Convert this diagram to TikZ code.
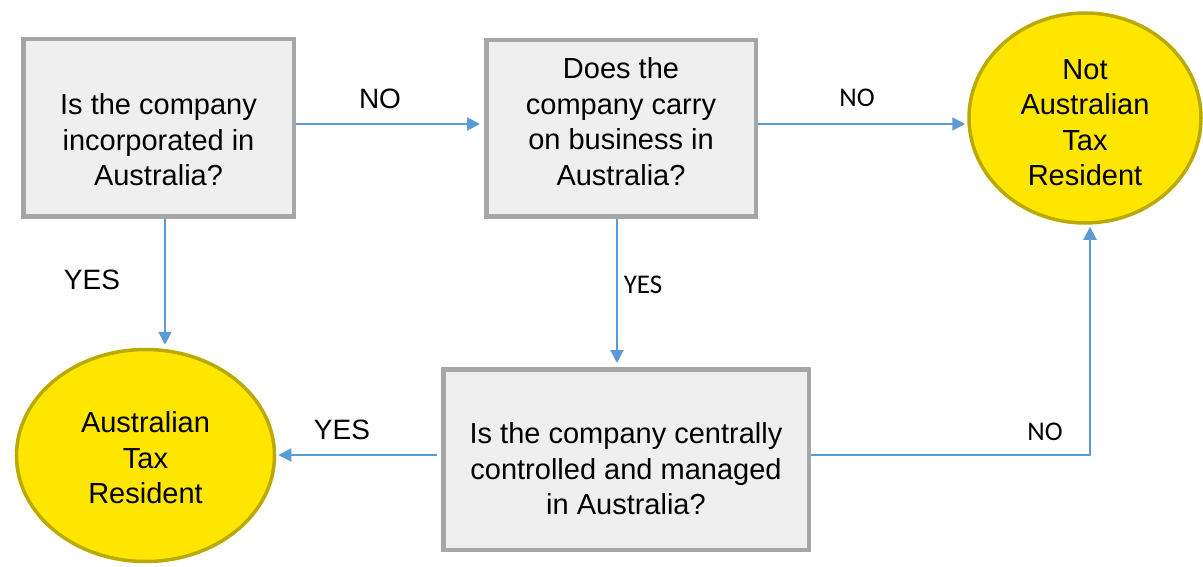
\documentclass[tikz,border=0pt]{standalone}
\usepackage{fontspec}
\setmainfont{Liberation Sans}
\newfontfamily\calfont{Carlito}
\usetikzlibrary{shapes.geometric,arrows.meta}
\definecolor{boxfill}{HTML}{EFEFEF}
\definecolor{boxline}{HTML}{A6A6A6}
\definecolor{sunfill}{HTML}{FFE600}
\definecolor{sunline}{HTML}{BAAA00}
\definecolor{flow}{HTML}{5B9BD5}
\tikzset{
  qbox/.style={draw=boxline, fill=boxfill, line width=4.5pt, rectangle, inner sep=0pt},
  qtext/.style={align=center, font=\fontsize{29}{35.5}\selectfont, inner sep=0pt},
  result/.style={draw=sunline, fill=sunfill, line width=3.5pt, ellipse, inner sep=0pt},
  arr/.style={draw=flow, line width=2pt, -{Triangle[length=13pt,width=13pt]}},
  biglbl/.style={font=\fontsize{28}{32}\selectfont, inner sep=0pt},
  smalllbl/.style={font=\calfont\fontsize{27}{30}\selectfont, inner sep=0pt},
}
\begin{document}
\begin{tikzpicture}[x=1pt, y=-1pt]
\useasboundingbox (0,0) rectangle (1203,567);

% decision boxes
\node[qbox, minimum width=270.5pt, minimum height=177.5pt,
  label={[qtext, yshift=-12pt]center:{Is the company\\incorporated in\\Australia?}}]
  (q1) at (158.5,128) {};
\node[qbox, minimum width=269.5pt, minimum height=176.5pt,
  label={[qtext, yshift=7pt]center:{Does the\\company carry\\on business in\\Australia?}}]
  (q2) at (621,128.5) {};
\node[qbox, minimum width=365.5pt, minimum height=180.5pt,
  label={[qtext, yshift=-9.5pt]center:{Is the company centrally\\controlled and managed\\in Australia?}}]
  (q3) at (626,459.5) {};

% outcomes
\node[result, minimum width=232pt, minimum height=210pt,
  label={[qtext, yshift=-4.5pt]center:{Not\\Australian\\Tax\\Resident}}]
  (notres) at (1085,118) {};
\node[result, minimum width=258pt, minimum height=212pt,
  label={[qtext, yshift=-2.5pt]center:{Australian\\Tax\\Resident}}]
  (res) at (145.5,455.5) {};

% connectors
\draw[arr, shorten >=4pt] ([yshift=4pt]q1.east) -- ([yshift=4pt]q1.east -| q2.west);
\draw[arr, shorten >=2pt] ([yshift=4pt]q1.east -| q2.east) -- ([yshift=4pt]q1.east -| notres.west);
\draw[arr, shorten >=3pt] ([xshift=6.5pt]q1.south) -- ([xshift=6.5pt]q1.south |- res.north);
\draw[arr, shorten >=4pt] ([xshift=-4pt]q2.south) -- ([xshift=-4pt]q2.south |- q3.north);
\draw[arr, shorten <=4pt, shorten >=2pt] ([yshift=4.5pt]q3.west) -- ([yshift=4.5pt]q3.west -| res.east);
\coordinate (up) at ([xshift=5pt]notres.south);
\draw[arr, shorten >=2pt] ([yshift=4.5pt]q3.east) -| (up);

% branch labels
\node[biglbl] (l1) at (380,99) {NO};
\node[smalllbl] (l2) at (857,98) {NO};
\node[biglbl] (l3) at (92,280) {YES};
\node[smalllbl] (l4) at (643,285) {YES};
\node[biglbl] (l5) at (342,430) {YES};
\node[smalllbl] (l6) at (1045,432) {NO};
\end{tikzpicture}
\end{document}
